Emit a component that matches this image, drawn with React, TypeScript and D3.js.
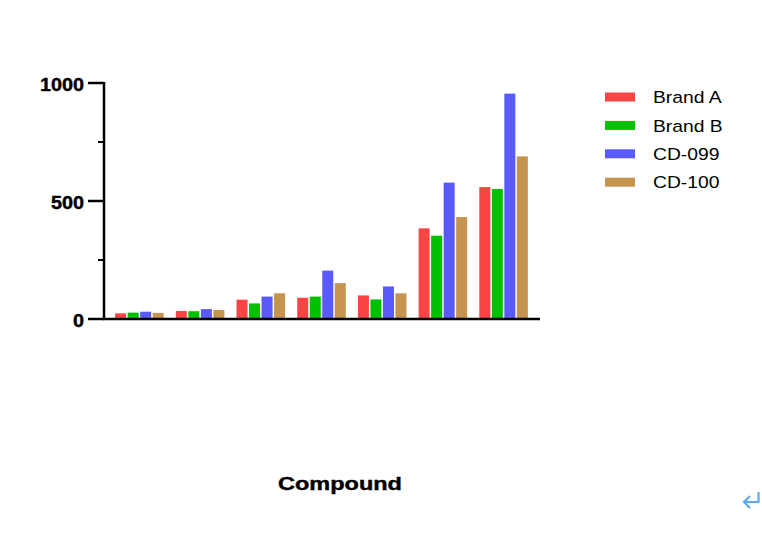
import React from "react";
import * as d3 from "d3";

const categories = ["C1", "C2", "C3", "C4", "C5", "C6", "C7"];
const seriesNames = ["Brand A", "Brand B", "CD-099", "CD-100"];
const brandA = [24, 34, 82, 90, 100, 384, 559];
const brandB = [27, 33, 66, 95, 83, 353, 551];
const cd099 = [31, 42, 95, 205, 138, 578, 955];
const cd100 = [26, 38, 109, 152, 109, 432, 689];
const seriesValues = [brandA, brandB, cd099, cd100];
const colors = ["#FB4444", "#00C000", "#5A5AFA", "#C6944E"];
const majorTicks = [0, 500, 1000];
const minorTicks = [250, 750];
const xTitle = "Compound";

export default function App() {
  const W = 762;
  const H = 534;
  const x0 = d3.scaleBand<string>().domain(categories).range([103, 540]).paddingInner(0.2).paddingOuter(0.2);
  const x1 = d3.scaleBand<string>().domain(seriesNames).range([0, x0.bandwidth()]).paddingInner(0.12);
  const y = d3.scaleLinear().domain([0, 1000]).range([319, 83]);
  const font = "'Liberation Sans', Arial, Helvetica, sans-serif";

  return (
    <svg width={W} height={H} style={{ position: "absolute", left: 0, top: 0, background: "#fff" }} fontFamily={font}>
      <rect x={0} y={0} width={W} height={H} fill="#fff" />
      {/* bars */}
      {categories.map((c, ci) => (
        <g key={c} transform={`translate(${x0(c)},0)`}>
          {seriesNames.map((s, si) => {
            const v = seriesValues[si][ci];
            return (
              <rect
                key={s}
                x={x1(s)}
                y={y(v)}
                width={x1.bandwidth()}
                height={y(0) - y(v)}
                fill={colors[si]}
              />
            );
          })}
        </g>
      ))}
      {/* y axis */}
      <line x1={104} x2={104} y1={y(1000) - 1} y2={y(0) + 1} stroke="#000" strokeWidth={2.5} />
      {majorTicks.map((t) => (
        <g key={t}>
          <line x1={88} x2={104} y1={y(t)} y2={y(t)} stroke="#000" strokeWidth={2.5} />
          <text
            x={0}
            y={0}
            textAnchor="end"
            dominantBaseline="central"
            fontSize={18}
            fontWeight="bold"
            fill="#000"
            stroke="#000"
            strokeWidth={0.4}
            transform={`translate(84,${y(t) + 1.5}) scale(1.1,1)`}
          >
            {t}
          </text>
        </g>
      ))}
      {minorTicks.map((t) => (
        <line key={t} x1={98} x2={104} y1={y(t)} y2={y(t)} stroke="#000" strokeWidth={2} />
      ))}
      {/* x axis */}
      <line x1={103} x2={540} y1={y(0)} y2={y(0)} stroke="#000" strokeWidth={2.5} />
      <text
        x={0}
        y={0}
        textAnchor="middle"
        fontSize={18.5}
        fontWeight="bold"
        fill="#000"
        stroke="#000"
        strokeWidth={0.4}
        transform={`translate(340,490) scale(1.27,1)`}
      >
        {xTitle}
      </text>
      {/* legend */}
      {seriesNames.map((s, i) => {
        const cy = 97 + i * 28.4;
        return (
          <g key={s}>
            <rect x={605} y={cy - 4.5} width={30} height={9} fill={colors[i]} />
            <text
              x={0}
              y={0}
              fontSize={16.5}
              fill="#000"
              transform={`translate(653,${cy + 6.2}) scale(1.17,1)`}
            >
              {s}
            </text>
          </g>
        );
      })}
      {/* return-arrow glyph */}
      <path d="M758.5,492 V502 H744 M750,496 L744,502 L750,508" fill="none" stroke="#5AAAF5" strokeWidth={2.2} />
    </svg>
  );
}
